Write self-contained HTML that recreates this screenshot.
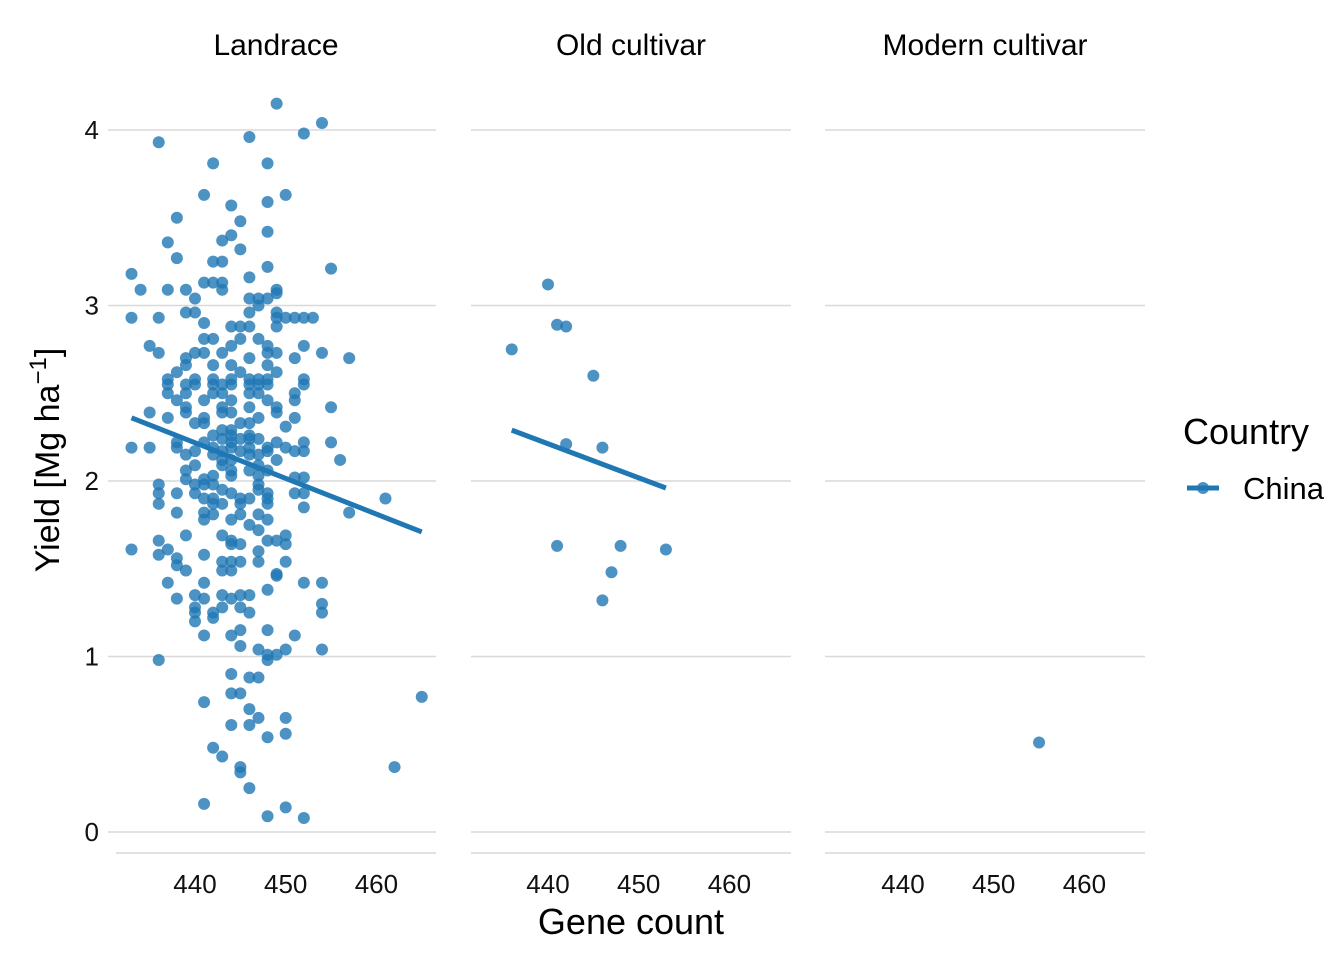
<!DOCTYPE html>
<html><head><meta charset="utf-8"><style>
body{margin:0;background:#fff;}
svg{display:block;font-family:"Liberation Sans",Arial,sans-serif;}
</style></head><body>
<svg id="chart" width="1344" height="960" viewBox="0 0 1344 960"></svg>
<script>
const facets = ["Landrace","Old cultivar","Modern cultivar"];
const landGene = [449,454,452,446,436,442,448,441,450,448,444,438,445,448,444,443,437,445,438,442,443,448,455,433,446,441,442,443,434,437,439,443,449,449,440,446,447,448,447,439,440,446,449,433,436,449,450,451,452,453,441,444,445,446,449,441,442,445,447,435,444,448,452,436,440,441,443,448,449,454,457,439,446,451,439,442,444,448,438,445,449,437,440,442,444,446,447,448,452,437,439,440,442,443,444,446,447,448,452,437,439,442,443,446,447,451,438,441,444,448,451,439,443,446,449,455,435,439,443,444,449,437,441,447,451,440,441,445,446,450,443,444,442,444,446,443,445,446,447,438,441,444,449,452,455,433,435,438,442,444,446,448,450,440,443,445,448,451,452,439,442,446,447,443,444,449,456,440,443,447,439,444,446,448,442,444,447,451,452,439,441,436,440,441,442,447,443,447,436,438,440,444,448,451,452,441,442,445,446,448,461,436,442,443,445,448,452,438,441,457,442,445,447,441,444,448,446,447,439,443,450,436,444,448,449,444,445,450,433,437,447,436,441,438,443,444,445,447,450,438,439,443,444,449,449,437,441,452,454,448,440,443,445,446,438,441,444,454,440,443,445,440,442,446,454,442,440,445,448,441,444,451,445,447,450,454,448,449,436,448,444,446,447,444,445,465,441,446,447,450,444,446,450,448,442,443,445,462,445,446,441,450,448,452];
const landYield = [4.15,4.04,3.98,3.96,3.93,3.81,3.81,3.63,3.63,3.59,3.57,3.50,3.48,3.42,3.40,3.37,3.36,3.32,3.27,3.25,3.25,3.22,3.21,3.18,3.16,3.13,3.13,3.13,3.09,3.09,3.09,3.09,3.09,3.07,3.04,3.04,3.04,3.04,3.00,2.96,2.96,2.96,2.96,2.93,2.93,2.93,2.93,2.93,2.93,2.93,2.90,2.88,2.88,2.88,2.88,2.81,2.81,2.81,2.81,2.77,2.77,2.77,2.77,2.73,2.73,2.73,2.73,2.73,2.73,2.73,2.70,2.70,2.70,2.70,2.66,2.66,2.66,2.66,2.62,2.62,2.62,2.58,2.58,2.58,2.58,2.58,2.58,2.58,2.58,2.55,2.55,2.55,2.55,2.55,2.55,2.55,2.55,2.55,2.55,2.50,2.50,2.50,2.50,2.50,2.50,2.50,2.46,2.46,2.46,2.46,2.46,2.42,2.42,2.42,2.42,2.42,2.39,2.39,2.39,2.39,2.39,2.36,2.36,2.36,2.36,2.33,2.33,2.33,2.33,2.31,2.29,2.29,2.26,2.26,2.26,2.24,2.24,2.24,2.24,2.22,2.22,2.22,2.22,2.22,2.22,2.19,2.19,2.19,2.19,2.19,2.19,2.19,2.19,2.17,2.17,2.17,2.17,2.17,2.17,2.15,2.15,2.15,2.15,2.12,2.12,2.12,2.12,2.09,2.09,2.09,2.06,2.06,2.06,2.06,2.03,2.03,2.03,2.02,2.02,2.01,2.01,1.98,1.98,1.98,1.98,1.98,1.95,1.95,1.93,1.93,1.93,1.93,1.93,1.93,1.93,1.90,1.90,1.90,1.90,1.90,1.90,1.87,1.87,1.87,1.87,1.87,1.85,1.82,1.82,1.82,1.81,1.81,1.81,1.78,1.78,1.78,1.75,1.72,1.69,1.69,1.69,1.66,1.66,1.66,1.66,1.64,1.64,1.64,1.61,1.61,1.60,1.58,1.58,1.56,1.54,1.54,1.54,1.54,1.54,1.52,1.49,1.49,1.49,1.47,1.46,1.42,1.42,1.42,1.42,1.38,1.35,1.35,1.35,1.35,1.33,1.33,1.33,1.30,1.28,1.28,1.28,1.25,1.25,1.25,1.25,1.22,1.20,1.15,1.15,1.12,1.12,1.12,1.06,1.04,1.04,1.04,1.01,1.01,0.98,0.98,0.90,0.88,0.88,0.79,0.79,0.77,0.74,0.70,0.65,0.65,0.61,0.61,0.56,0.54,0.48,0.43,0.37,0.37,0.34,0.25,0.16,0.14,0.09,0.08];
const oldGene = [440,441,442,436,445,442,446,441,448,453,447,446];
const oldYield = [3.12,2.89,2.88,2.75,2.60,2.21,2.19,1.63,1.63,1.61,1.48,1.32];
const modGene = [455];
const modYield = [0.51];
const trendStartGene = [433,436];
const trendStartYield = [2.36,2.29];
const trendEndGene = [465,453];
const trendEndYield = [1.71,1.96];
const xTicks = [440,450,460];
const yTicks = [0,1,2,3,4];

const NS="http://www.w3.org/2000/svg";
const svg=document.getElementById('chart');
function mk(t,a,p){const e=document.createElementNS(NS,t);for(const k in a)e.setAttribute(k,a[k]);(p||svg).appendChild(e);return e;}
const panelX0=[108,471,825], panelX1=[436,791,1145], axX0=[116,471,825], offs=[0,353,708];
function xs(g,i){return 195+offs[i]+(g-440)*9.07;}
function ys(v){return 832-v*175.5;}
const series=[[landGene,landYield],[oldGene,oldYield],[modGene,modYield]];

facets.forEach((f,i)=>{
  const g=mk('g',{});
  
  
  yTicks.forEach(t=>{
    const l=mk('line',{x1:panelX0[i],x2:panelX1[i],y1:ys(t),y2:ys(t),stroke:'#d9d9d9','stroke-width':1.5},g);
    
    
  });
  const ax=mk('line',{x1:axX0[i],x2:panelX1[i],y1:853,y2:853,stroke:'#d9d9d9','stroke-width':1.5},g);
  
  
  const ttl=mk('text',{x:(axX0[i]+panelX1[i])/2,y:55,'text-anchor':'middle','font-size':30,fill:'#000'},g);
  ttl.textContent=f;
  
  
  xTicks.forEach(t=>{
    const tx=mk('text',{x:xs(t,i),y:893,'text-anchor':'middle','font-size':26,fill:'#111'},g);
    tx.textContent=t;
    
    
  });
  const [gx,gy]=series[i];
  gx.forEach((v,k)=>{
    const c=mk('circle',{cx:xs(v,i),cy:ys(gy[k]),r:6,fill:'#1f77b4','fill-opacity':0.8},g);
    
    
  });
  if(i<trendStartGene.length){
    const ln=mk('line',{x1:xs(trendStartGene[i],i),y1:ys(trendStartYield[i]),x2:xs(trendEndGene[i],i),y2:ys(trendEndYield[i]),stroke:'#1f77b4','stroke-width':5},g);
    
    
  }
});
yTicks.forEach(t=>{
  const tx=mk('text',{x:99,y:ys(t)+9,'text-anchor':'end','font-size':26,fill:'#111'});
  tx.textContent=t;
  
  
});
const xt=mk('text',{x:631,y:934,'text-anchor':'middle','font-size':36,fill:'#000'});
xt.textContent='Gene count';


const yt=mk('text',{transform:'translate(59,460) rotate(-90)','text-anchor':'middle','font-size':34,fill:'#000'});
yt.innerHTML='Yield [Mg ha<tspan dy="-13" font-size="24">−1</tspan><tspan dy="13">]</tspan>';


const lg=mk('g',{});


const lt=mk('text',{x:1183,y:444,'font-size':36,fill:'#000'},lg);
lt.textContent='Country';


const kl=mk('line',{x1:1187,x2:1219,y1:488,y2:488,stroke:'#1f77b4','stroke-width':5},lg);


const kc=mk('circle',{cx:1203,cy:488,r:6,fill:'#1f77b4','fill-opacity':0.8},lg);


const le=mk('text',{x:1243,y:499,'font-size':31,fill:'#000'},lg);
le.textContent='China';


</script>
</body></html>
